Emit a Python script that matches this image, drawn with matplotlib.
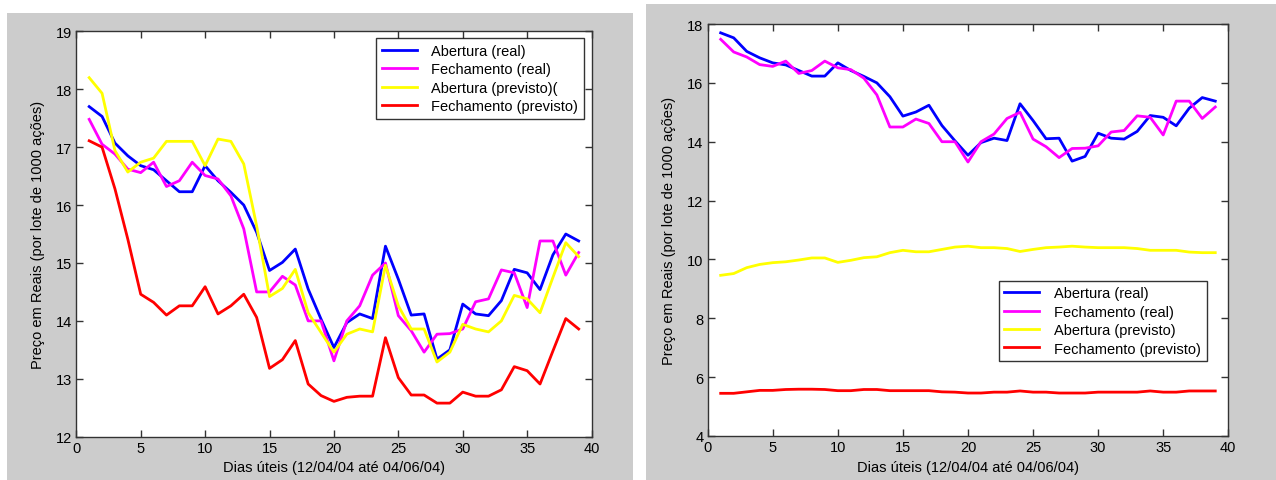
import matplotlib
matplotlib.use("Agg")
import matplotlib.pyplot as plt
from matplotlib.patches import Rectangle

plt.rcParams['font.family'] = ['Liberation Sans Narrow', 'Liberation Sans', 'DejaVu Sans']

# dias uteis
dias = list(range(1, 40))

# valores reais
abertura_real = [17.70, 17.53, 17.07, 16.85, 16.68, 16.61, 16.42, 16.23, 16.23, 16.68,
                 16.42, 16.22, 16.00, 15.53, 14.87, 15.01, 15.24, 14.55, 14.03, 13.54,
                 13.97, 14.12, 14.04, 15.29, 14.72, 14.10, 14.12, 13.34, 13.50, 14.29,
                 14.12, 14.09, 14.35, 14.89, 14.83, 14.54, 15.14, 15.50, 15.38]
fechamento_real = [17.48, 17.05, 16.88, 16.62, 16.56, 16.74, 16.32, 16.42, 16.74, 16.51,
                   16.45, 16.16, 15.59, 14.50, 14.50, 14.77, 14.62, 14.00, 14.00, 13.31,
                   14.00, 14.26, 14.79, 15.00, 14.09, 13.83, 13.46, 13.77, 13.78, 13.86,
                   14.33, 14.38, 14.88, 14.83, 14.23, 15.38, 15.38, 14.79, 15.18]

# previsto - grafico 1
abertura_prev1 = [18.20, 17.93, 16.94, 16.57, 16.74, 16.81, 17.10, 17.10, 17.10, 16.68,
                  17.14, 17.10, 16.71, 15.64, 14.42, 14.56, 14.89, 14.14, 13.80, 13.46,
                  13.77, 13.86, 13.81, 14.96, 14.26, 13.86, 13.86, 13.29, 13.46, 13.94,
                  13.86, 13.81, 14.00, 14.44, 14.38, 14.14, 14.75, 15.35, 15.11]
fechamento_prev1 = [17.11, 17.00, 16.28, 15.41, 14.46, 14.32, 14.10, 14.26, 14.26, 14.59,
                    14.12, 14.26, 14.46, 14.06, 13.18, 13.33, 13.66, 12.91, 12.71, 12.61,
                    12.68, 12.70, 12.70, 13.71, 13.02, 12.72, 12.72, 12.58, 12.58, 12.77,
                    12.70, 12.70, 12.81, 13.21, 13.14, 12.91, 13.48, 14.04, 13.86]

# previsto - grafico 2
abertura_prev2 = [9.46, 9.52, 9.72, 9.83, 9.89, 9.92, 9.98, 10.05, 10.05, 9.90,
                  9.97, 10.06, 10.09, 10.23, 10.31, 10.26, 10.26, 10.34, 10.42, 10.45,
                  10.40, 10.40, 10.37, 10.27, 10.34, 10.40, 10.42, 10.45, 10.42, 10.40,
                  10.40, 10.40, 10.37, 10.31, 10.31, 10.31, 10.25, 10.23, 10.23]
fechamento_prev2 = [5.45, 5.45, 5.50, 5.55, 5.55, 5.58, 5.59, 5.59, 5.58, 5.54,
                    5.54, 5.58, 5.58, 5.54, 5.54, 5.54, 5.54, 5.50, 5.49, 5.46,
                    5.46, 5.49, 5.49, 5.53, 5.49, 5.49, 5.46, 5.46, 5.46, 5.49,
                    5.49, 5.49, 5.49, 5.53, 5.49, 5.49, 5.53, 5.53, 5.53]

legenda1 = ['Abertura (real)', 'Fechamento (real)', 'Abertura (previsto)(', 'Fechamento (previsto)']
legenda2 = ['Abertura (real)', 'Fechamento (real)', 'Abertura (previsto)', 'Fechamento (previsto)']
cores = ['#0000ff', '#ff00ff', '#ffff00', '#ff0000']

fs = 10.5

fig = plt.figure(figsize=(12.76, 4.81), dpi=100, facecolor='white')
# fundos cinza (estilo matlab)
fig.patches.append(Rectangle((7 / 1276, 0), 626 / 1276, 467 / 481, transform=fig.transFigure,
                             facecolor='#cccccc', edgecolor='none', zorder=-10))
fig.patches.append(Rectangle((646 / 1276, 0), 630 / 1276, 476 / 481, transform=fig.transFigure,
                             facecolor='#cccccc', edgecolor='none', zorder=-10))

ax1 = fig.add_axes([0.0598, 0.0900, 0.4038, 0.8428])
ax2 = fig.add_axes([0.5546, 0.0915, 0.4080, 0.8565])


def estilo(ax, yticks):
    ax.set_facecolor('white')
    ax.set_xlim(0, 40)
    ax.set_xticks(range(0, 41, 5))
    ax.set_ylim(yticks[0], yticks[-1])
    ax.set_yticks(yticks)
    ax.tick_params(direction='in', length=5, width=1, top=True, right=True,
                   labelsize=fs, colors='#333333', labelcolor='black', pad=3)
    for s in ax.spines.values():
        s.set_color('#333333')
        s.set_linewidth(1)
    ax.set_xlabel('Dias úteis (12/04/04 até 04/06/04)', fontsize=fs, labelpad=4)
    ax.set_ylabel('Preço em Reais (por lote de 1000 ações)', fontsize=fs, labelpad=8)


def legenda(ax, loc, anchor):
    leg = ax.legend(loc=loc, bbox_to_anchor=anchor, borderaxespad=0,
                    fancybox=False, edgecolor='black', fontsize=fs, handlelength=2.4,
                    labelspacing=0.3, borderpad=0.4, handletextpad=1.0)
    leg.get_frame().set_linewidth(1)


series1 = [abertura_real, fechamento_real, abertura_prev1, fechamento_prev1]
for y, c, lab in zip(series1, cores, legenda1):
    ax1.plot(dias, y, color=c, lw=2, label=lab)
estilo(ax1, list(range(12, 20)))
legenda(ax1, 'upper right', (0.985, 0.983))

series2 = [abertura_real, fechamento_real, abertura_prev2, fechamento_prev2]
for y, c, lab in zip(series2, cores, legenda2):
    ax2.plot(dias, y, color=c, lw=2, label=lab)
estilo(ax2, list(range(4, 19, 2)))
legenda(ax2, 'lower right', (0.9585, 0.181))

plt.savefig('out.png', dpi=100, facecolor='white')
